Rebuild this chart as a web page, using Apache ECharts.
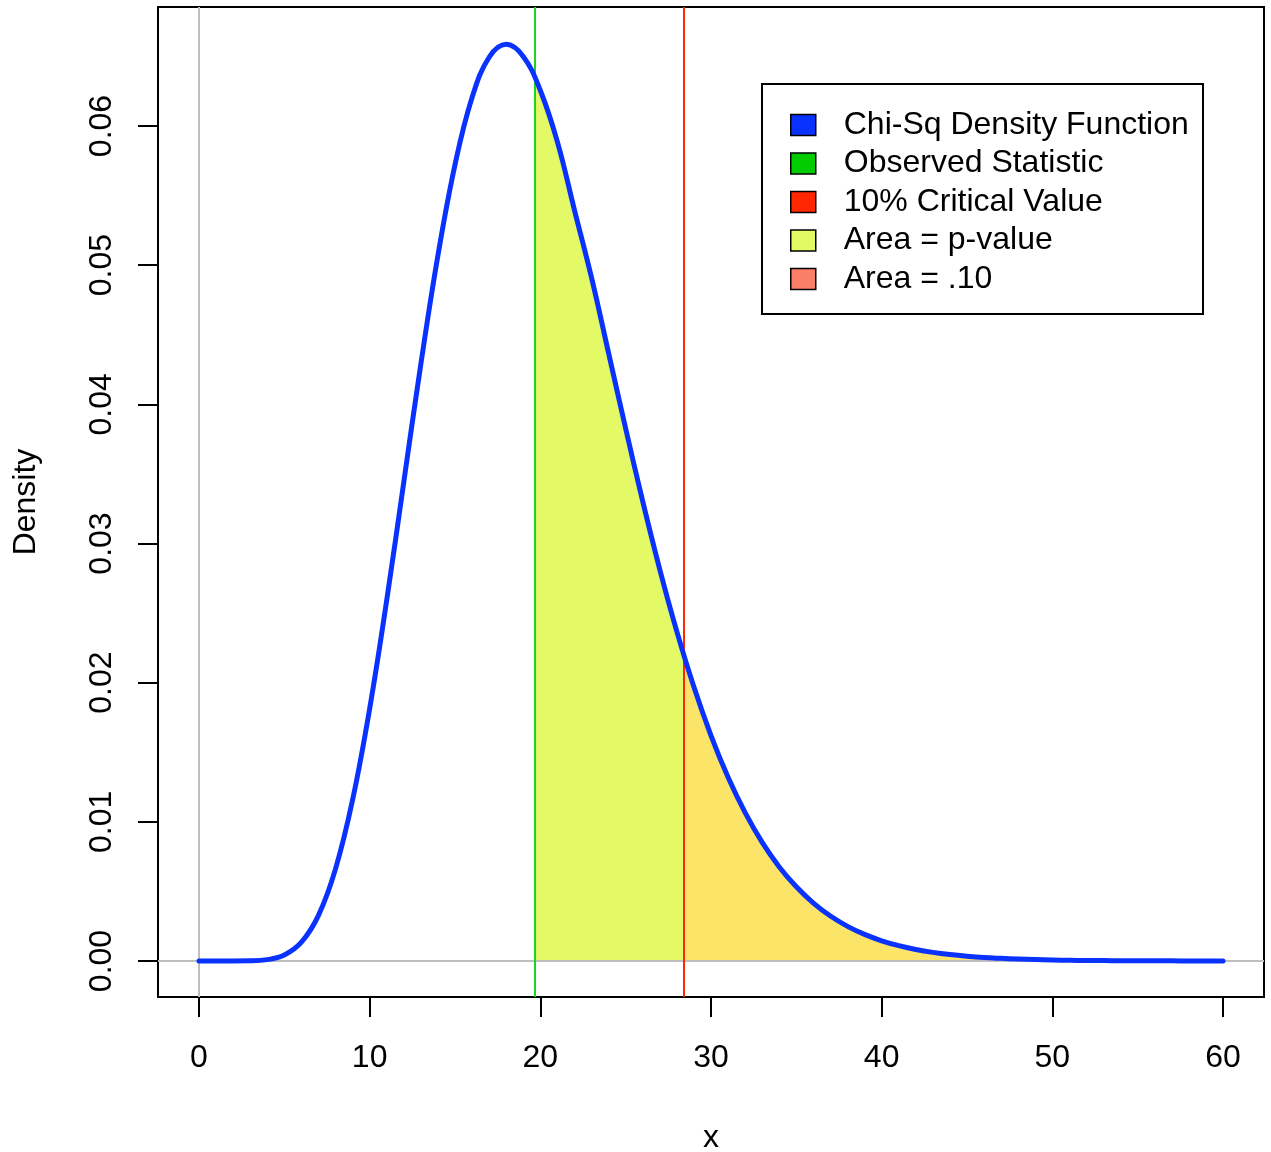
<!DOCTYPE html>
<html>
<head>
<meta charset="utf-8">
<script src="https://cdn.jsdelivr.net/npm/echarts@6/dist/echarts.min.js"></script>
<style>
  html, body { margin: 0; padding: 0; background: #fff; }
  #main { width: 1271px; height: 1152px; }
</style>
</head>
<body>
<div id="main"></div>
<script>
// x 取值 0..60
var xVals = [];
for (var i = 0; i <= 60; i++) xVals.push(i);
// 卡方密度 (从图上读的)
var densVals = [
  0.00000, 0.00000, 0.00000, 0.00001, 0.00010, 0.00043, 0.00135, 0.00328, 0.00662, 0.01158,
  0.01813, 0.02593, 0.03442, 0.04290, 0.05070, 0.05722, 0.06204, 0.06494, 0.06587, 0.06500,
  0.06255, 0.05886, 0.05396, 0.04910, 0.04368, 0.03826, 0.03303, 0.02813, 0.02367, 0.01969,
  0.01620, 0.01320, 0.01066, 0.00852, 0.00676, 0.00533, 0.00416, 0.00323, 0.00249, 0.00191,
  0.00145, 0.00110, 0.00083, 0.00062, 0.00046, 0.00034, 0.00025, 0.00019, 0.00014, 0.00010,
  0.00007, 0.00005, 0.00004, 0.00003, 0.00002, 0.00001, 0.00001, 0.00001, 0.00000, 0.00000,
  0.00000
];
// 观测统计量, 10%临界值
var obsStat = 19.68;
var obsDens = 0.0634;
var critVal = 28.41;
var critDens = 0.0220;
// 刻度
var xTicks = [0, 10, 20, 30, 40, 50, 60];
var yTicks = [0, 0.01, 0.02, 0.03, 0.04, 0.05, 0.06];

var legendNames = ['Chi-Sq Density Function', 'Observed Statistic', '10% Critical Value', 'Area = p-value', 'Area = .10'];
var legendColors = ['#0a32ff', '#00cc00', '#ff2600', '#e2fb64', '#fb7f67'];

var chart = echarts.init(document.getElementById('main'));

// 曲线数据
var curveData = xVals.map(function (x, i) { return [x, densVals[i]]; });
// 面积数据: 从某点开始到 60
function tailData(x0, y0) {
  var d = [[x0, y0]];
  xVals.forEach(function (x, i) {
    if (x > x0) d.push([x, densVals[i]]);
  });
  return d;
}

var font = 'Liberation Sans, Arial, Helvetica, sans-serif';

var option = {
  animation: false,
  backgroundColor: '#fff',
  textStyle: { fontFamily: font },
  grid: [
    { left: 158, top: 7, width: 1106, height: 990, outerBoundsMode: 'none', show: true, borderColor: '#000', borderWidth: 2, backgroundColor: 'transparent' },
    { left: 199, top: 7, width: 1024, height: 990, outerBoundsMode: 'none' },
    { left: 158, top: 126, width: 1106, height: 835, outerBoundsMode: 'none' }
  ],
  xAxis: [
    { gridIndex: 0, type: 'value', min: -2.402, max: 62.402, show: false },
    {
      gridIndex: 1, type: 'value', min: 0, max: 60, interval: 10, position: 'bottom',
      name: 'x', nameLocation: 'middle', nameGap: 125,
      nameTextStyle: { fontSize: 32, color: '#000', fontFamily: font },
      axisLine: { show: false, onZero: false },
      axisTick: { show: true, inside: false, length: 20, lineStyle: { color: '#000', width: 2 } },
      axisLabel: { fontSize: 32, color: '#000', margin: 45, fontFamily: font },
      splitLine: { show: false }
    },
    { gridIndex: 2, type: 'value', min: 0, max: 1, show: false }
  ],
  yAxis: [
    {
      gridIndex: 0, type: 'value', min: -0.002587, max: 0.068551, position: 'left',
      name: 'Density', nameLocation: 'middle', nameGap: 116,
      nameTextStyle: { fontSize: 32, color: '#000', fontFamily: font },
      axisLine: { show: false }, axisTick: { show: false }, axisLabel: { show: false },
      splitLine: { show: false }
    },
    { gridIndex: 1, type: 'value', min: 0, max: 1, show: false },
    {
      gridIndex: 2, type: 'value', min: 0, max: 0.06, interval: 0.01, position: 'left',
      axisLine: { show: false, onZero: false },
      axisTick: { show: true, inside: false, length: 20, lineStyle: { color: '#000', width: 2 } },
      axisLabel: {
        fontSize: 32, color: '#000', rotate: 90, margin: 40, fontFamily: font,
        formatter: function (v) { return v.toFixed(2); }
      },
      splitLine: { show: false }
    }
  ],
  legend: {
    orient: 'vertical',
    left: 790,
    top: 109,
    padding: 0,
    z: 10,
    icon: 'rect',
    itemWidth: 25,
    itemHeight: 21,
    itemGap: 6.5,
    selectedMode: false,
    textStyle: { fontSize: 32, color: '#000', fontFamily: font, padding: [0, 0, 0, 23] },
    data: legendNames.map(function (n, i) {
      return { name: n, itemStyle: { color: legendColors[i], borderColor: '#000', borderWidth: 1.5 } };
    })
  },
  graphic: [{
    type: 'rect', z: 9,
    shape: { x: 762, y: 84, width: 441, height: 230 },
    style: { fill: '#fff', stroke: '#000', lineWidth: 2 }
  }],
  series: [
    {
      name: 'ref', type: 'line', data: [], xAxisIndex: 0, yAxisIndex: 0, z: 1,
      markLine: {
        silent: true, symbol: 'none', label: { show: false },
        lineStyle: { color: '#bebebe', width: 2, type: 'solid' },
        data: [{ xAxis: 0 }, { yAxis: 0 }]
      }
    },
    {
      name: legendNames[1], type: 'line', data: [], xAxisIndex: 0, yAxisIndex: 0, z: 2,
      itemStyle: { color: legendColors[1] },
      markLine: {
        silent: true, symbol: 'none', label: { show: false },
        lineStyle: { color: '#1ed41e', width: 2, type: 'solid' },
        data: [{ xAxis: obsStat }]
      }
    },
    {
      name: legendNames[2], type: 'line', data: [], xAxisIndex: 0, yAxisIndex: 0, z: 2,
      itemStyle: { color: legendColors[2] },
      markLine: {
        silent: true, symbol: 'none', label: { show: false },
        lineStyle: { color: '#ff2600', width: 2, type: 'solid' },
        data: [{ xAxis: critVal }]
      }
    },
    {
      name: legendNames[3], type: 'line', xAxisIndex: 0, yAxisIndex: 0, z: 3,
      data: tailData(obsStat, obsDens),
      smooth: 0.4, symbol: 'none',
      itemStyle: { color: legendColors[3] },
      lineStyle: { color: 'rgba(110,110,80,0.8)', width: 3 },
      areaStyle: { color: 'rgba(208,245,0,0.6)', opacity: 1 }
    },
    {
      name: legendNames[4], type: 'line', xAxisIndex: 0, yAxisIndex: 0, z: 3,
      data: tailData(critVal, critDens),
      smooth: 0.4, symbol: 'none',
      itemStyle: { color: legendColors[4] },
      lineStyle: { color: 'rgba(110,110,80,0.6)', width: 3 },
      areaStyle: { color: 'rgba(255,224,104,0.85)', opacity: 1 }
    },
    {
      name: legendNames[0], type: 'line', xAxisIndex: 0, yAxisIndex: 0, z: 5,
      data: curveData,
      smooth: 0.4, symbol: 'none',
      itemStyle: { color: legendColors[0] },
      lineStyle: { color: '#0a32ff', width: 5, cap: 'round', join: 'round' }
    }
  ]
};

chart.setOption(option);
</script>
</body>
</html>
